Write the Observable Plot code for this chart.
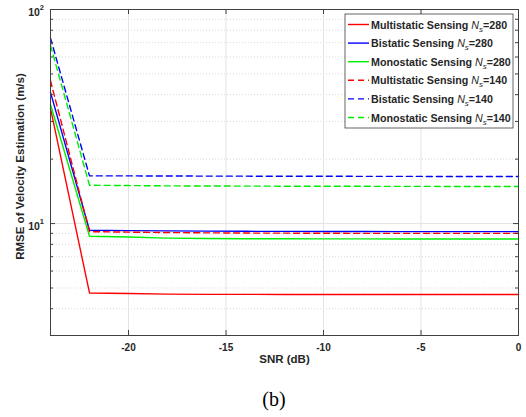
<!DOCTYPE html>
<html>
<head>
<meta charset="utf-8">
<script src="https://cdn.jsdelivr.net/npm/d3@7"></script>
<script src="https://cdn.jsdelivr.net/npm/@observablehq/plot@0.6"></script>
<style>
  html, body { margin: 0; padding: 0; background: white; }
  #wrap { position: relative; width: 526px; height: 417px; }
  #cap { position: absolute; left: 0; width: 548px; top: 388px; text-align: center;
         font-family: "Liberation Serif", "Times New Roman", serif; font-size: 20px; line-height: 22px; }
</style>
</head>
<body>
<div id="wrap"><div id="chart"></div><div id="cap">(b)</div></div>
<script>
// ---- data ----
const snr = [-24, -22, -20, -18, -16, -14, -12, -10, -8, -6, -4, -2, 0];
const multi280 = [34.5, 4.74, 4.71, 4.68, 4.67, 4.67, 4.66, 4.66, 4.66, 4.66, 4.66, 4.66, 4.66];
const bi280    = [41.0, 9.31, 9.27, 9.24, 9.22, 9.20, 9.19, 9.18, 9.18, 9.17, 9.17, 9.17, 9.17];
const mono280  = [36.0, 8.73, 8.65, 8.55, 8.52, 8.50, 8.49, 8.48, 8.48, 8.47, 8.47, 8.47, 8.47];
const multi140 = [46.5, 9.17, 9.12, 9.08, 9.05, 9.03, 9.02, 9.01, 9.00, 9.00, 9.00, 9.00, 9.00];
const bi140    = [73.5, 16.7, 16.7, 16.68, 16.66, 16.65, 16.64, 16.63, 16.62, 16.61, 16.6, 16.6, 16.6];
const mono140  = [68.0, 15.1, 15.05, 15.0, 14.98, 14.96, 14.95, 14.94, 14.93, 14.92, 14.91, 14.9, 14.9];
const seriesNames = ["Multistatic Sensing", "Bistatic Sensing", "Monostatic Sensing",
                     "Multistatic Sensing", "Bistatic Sensing", "Monostatic Sensing"];
const seriesNs = [280, 280, 280, 140, 140, 140];
const xTicks = [-20, -15, -10, -5, 0];
const yMajor = [10, 100];
const yMinor = [3, 4, 5, 6, 7, 8, 9, 20, 30, 40, 50, 60, 70, 80, 90];
const xLabel = "SNR (dB)";
const yLabel = "RMSE of Velocity Estimation (m/s)";

const seriesValues = [multi280, bi280, mono280, multi140, bi140, mono140];
const colors = ["#ff0000", "#0000ff", "#00ee00", "#ff0000", "#0000ff", "#00ee00"];
const dashed = [false, false, false, true, true, true];

const data = [];
seriesValues.forEach((vals, k) => vals.forEach((v, i) => data.push({k, snr: snr[i], v})));

const W = 526, H = 380, mT = 9, mB = 45, mL = 50, mR = 8;
const pH = H - mT - mB, pW = W - mL - mR;
const FONT = "'Liberation Sans', Arial, sans-serif";

const lineMarks = seriesValues.map((_, k) =>
  Plot.line(data.filter(d => d.k === k), {
    x: "snr", y: "v", stroke: colors[k], strokeWidth: 1.4,
    strokeDasharray: dashed[k] ? "6,4" : null
  })
);

const svg = Plot.plot({
  width: W, height: H,
  marginTop: mT, marginBottom: mB, marginLeft: mL, marginRight: mR,
  style: {fontFamily: FONT, fontWeight: "bold", fontSize: "10px", background: "white", color: "#262626"},
  x: {domain: [-24, 0]},
  y: {type: "log", domain: [3, 100], axis: null},
  marks: [
    Plot.ruleY(yMinor, {stroke: "#c8c8c8", strokeWidth: 0.7, strokeDasharray: "1,2"}),
    Plot.ruleX(xTicks, {stroke: "#e3e3e3", strokeWidth: 1}),
    Plot.ruleY(yMajor, {stroke: "#e3e3e3", strokeWidth: 1}),
    ...lineMarks,
    Plot.frame({stroke: "#404040", strokeWidth: 1}),
    // inward ticks
    Plot.ruleX(xTicks, {insetTop: pH - 5, stroke: "#404040"}),
    Plot.ruleX(xTicks, {insetBottom: pH - 5, stroke: "#404040"}),
    Plot.ruleY(yMajor, {insetRight: pW - 5, stroke: "#404040"}),
    Plot.ruleY(yMajor, {insetLeft: pW - 5, stroke: "#404040"}),
    Plot.ruleY(yMinor, {insetRight: pW - 3, stroke: "#404040"}),
    Plot.ruleY(yMinor, {insetLeft: pW - 3, stroke: "#404040"}),
    Plot.axisX({ticks: xTicks, tickSize: 0, tickPadding: 8, label: null, tickFormat: d => d === 0 ? "0" : String(d).replace("\u2212", "-")}),
    Plot.text([xLabel], {frameAnchor: "bottom", dy: 27, fontSize: 11.5, fontWeight: "bold", fill: "#262626"}),
    Plot.text([yLabel], {frameAnchor: "left", dx: -30, dy: -6, rotate: -90, textAnchor: "middle", fontSize: 11.5, fontWeight: "bold", fill: "#262626"})
  ]
});

// y tick labels with true superscripts
const ys = svg.scale("y");
const ga = d3.select(svg).append("g");
yMajor.forEach(v => {
  const t = ga.append("text").attr("x", mL - 6).attr("y", ys.apply(v) + 7)
    .attr("text-anchor", "end").attr("font-family", FONT).attr("font-weight", "bold")
    .attr("font-size", 10.5).attr("fill", "#262626");
  t.append("tspan").text("10");
  t.append("tspan").attr("font-size", 7.5).attr("dy", -6).text(String(Math.round(Math.log10(v))));
});

// legend box (inside the axes, top-right)
const g = d3.select(svg).append("g");
const lx = 345, ly = 14, lw = 168, lh = 114, step = 18.6, y0 = 24.5;
g.append("rect").attr("x", lx).attr("y", ly).attr("width", lw).attr("height", lh)
  .attr("fill", "white").attr("stroke", "#404040").attr("stroke-width", 0.8);
seriesNames.forEach((name, k) => {
  const yy = y0 + k * step;
  g.append("line").attr("x1", lx + 3).attr("x2", lx + 24).attr("y1", yy).attr("y2", yy)
    .attr("stroke", colors[k]).attr("stroke-width", 1.4)
    .attr("stroke-dasharray", dashed[k] ? "6,4" : null);
  const t = g.append("text").attr("x", lx + 26).attr("y", yy + 4).attr("text-anchor", "start")
    .attr("font-family", FONT).attr("font-weight", "bold")
    .attr("font-size", 10.7).attr("fill", "#262626");
  t.append("tspan").text(name + " ");
  t.append("tspan").attr("font-style", "italic").attr("font-weight", "normal").text("N");
  t.append("tspan").attr("font-style", "italic").attr("font-weight", "normal").attr("font-size", 8).attr("dy", 3).text("s");
  t.append("tspan").attr("dy", -3).text("=" + seriesNs[k]);
});

document.getElementById("chart").append(svg);
</script>
</body>
</html>
